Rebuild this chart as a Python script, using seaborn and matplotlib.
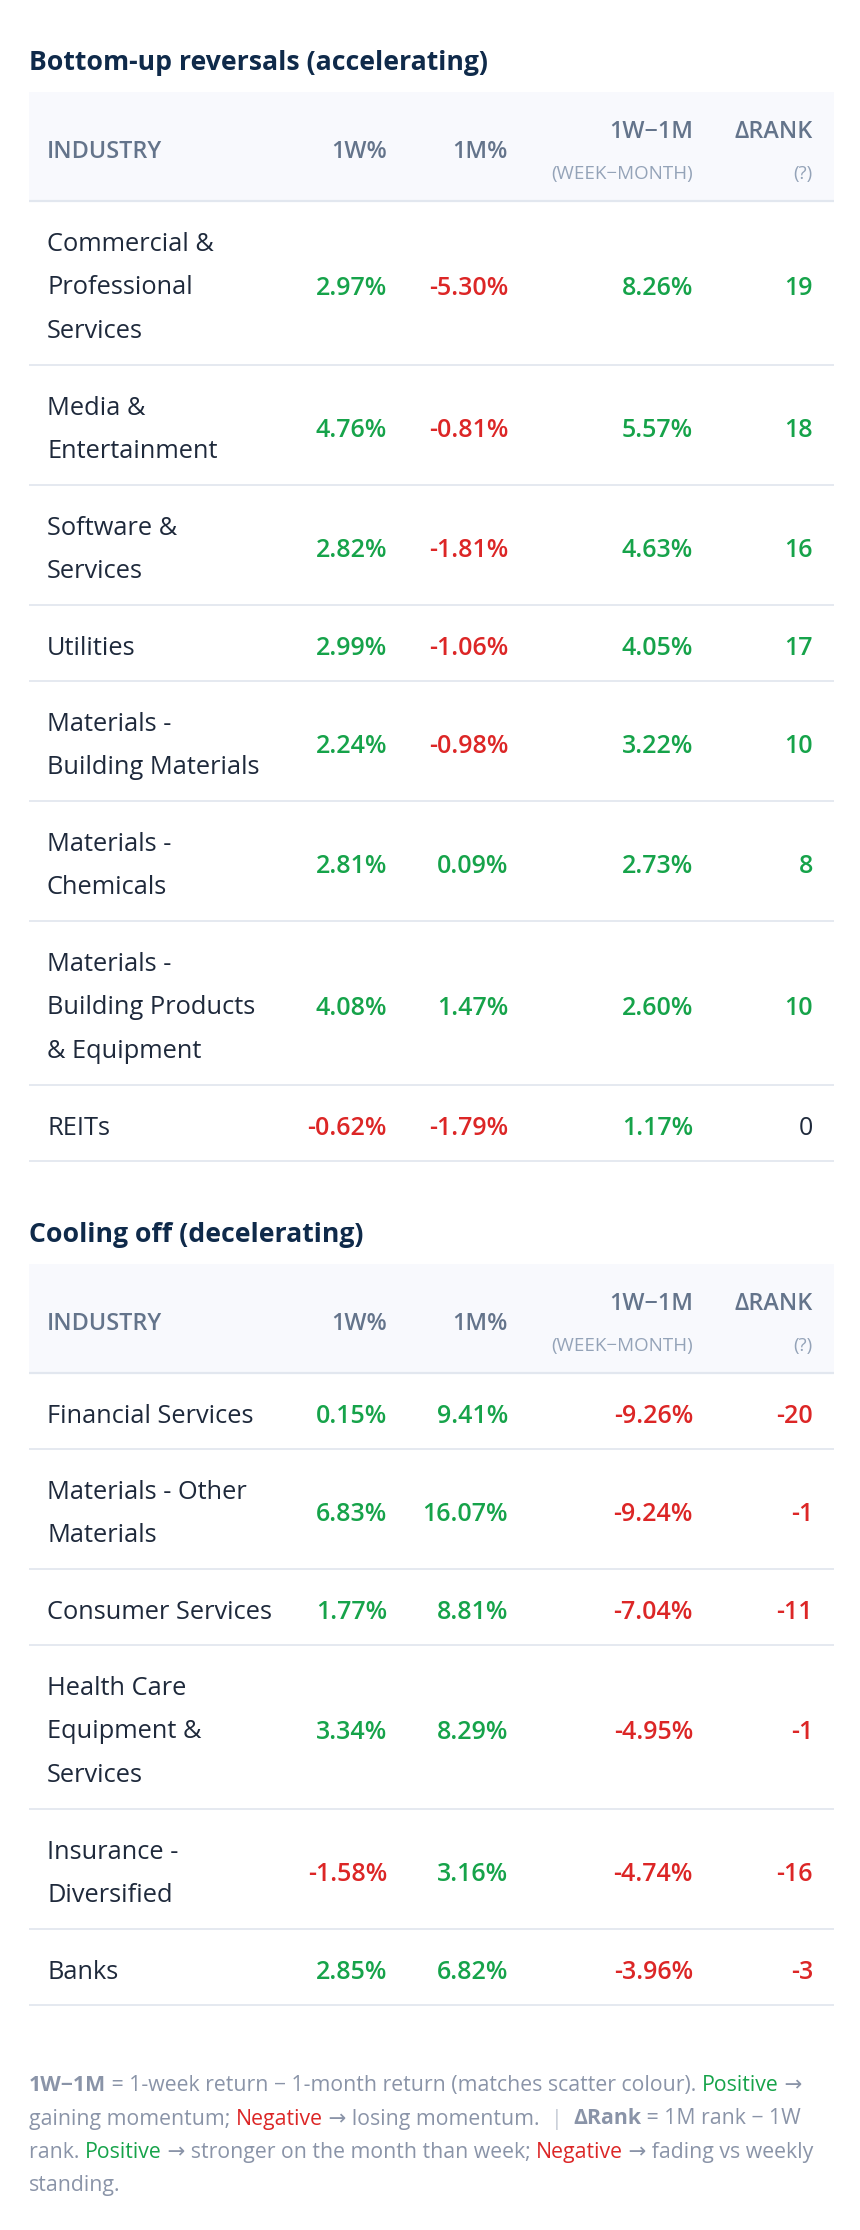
import textwrap
import pandas as pd
import seaborn as sns
import matplotlib.pyplot as plt
from matplotlib.patches import Rectangle

# table 1: bottom-up reversals
up_industry = ["Commercial & Professional Services", "Media & Entertainment",
               "Software & Services", "Utilities", "Materials - Building Materials",
               "Materials - Chemicals", "Materials - Building Products & Equipment", "REITs"]
up_1w = [2.97, 4.76, 2.82, 2.99, 2.24, 2.81, 4.08, -0.62]
up_1m = [-5.30, -0.81, -1.81, -1.06, -0.98, 0.09, 1.47, -1.79]
up_diff = [8.26, 5.57, 4.63, 4.05, 3.22, 2.73, 2.60, 1.17]
up_rank = [19, 18, 16, 17, 10, 8, 10, 0]

# table 2: cooling off
down_industry = ["Financial Services", "Materials - Other Materials", "Consumer Services",
                 "Health Care Equipment & Services", "Insurance - Diversified", "Banks"]
down_1w = [0.15, 6.83, 1.77, 3.34, -1.58, 2.85]
down_1m = [9.41, 16.07, 8.81, 8.29, 3.16, 6.82]
down_diff = [-9.26, -9.24, -7.04, -4.95, -4.74, -3.96]
down_rank = [-20, -1, -11, -1, -16, -3]

titles = ["Bottom-up reversals (accelerating)", "Cooling off (decelerating)"]

GREEN = "#16a34a"
RED = "#dc2626"
DARK = "#1e293b"
NAVY = "#0f2a4a"
HEAD = "#64748b"
SUB = "#94a3b8"
FOOT = "#8a94a8"
BAND = "#f8f9fd"
LINE = "#e5e9f0"

sns.set_theme(style="white")
plt.rcParams['font.family'] = ['Open Sans', 'DejaVu Sans']

W, H = 860, 2230
fig = plt.figure(figsize=(W / 100, H / 100), dpi=100)
ax = fig.add_axes([0, 0, 1, 1])
ax.set_xlim(0, W)
ax.set_ylim(H, 0)
ax.axis('off')

X0, X1 = 29, 834
TXT = 47
col_x = {"1w": 387, "1m": 508, "diff": 693, "rank": 813}


def sign_color(v):
    if v > 0:
        return GREEN
    if v < 0:
        return RED
    return DARK


def draw_table(y, title, df):
    ax.text(X0, y, title, fontsize=19.2, fontweight='bold', color=NAVY, va='baseline')
    top = y + 22
    ax.add_patch(Rectangle((X0, top), X1 - X0, 109, color=BAND, lw=0))
    hb = top + 109
    ax.plot([X0, X1], [hb, hb], color="#e2e7ef", lw=1.6, solid_capstyle='butt')
    hk = dict(fontsize=16.8, fontweight='semibold', color=HEAD, va='baseline')
    ax.text(TXT, top + 66, "INDUSTRY", **hk)
    ax.text(col_x["1w"], top + 66, "1W%", ha='right', **hk)
    ax.text(col_x["1m"], top + 66, "1M%", ha='right', **hk)
    ax.text(col_x["diff"], top + 46, "1W\u22121M", ha='right', **hk)
    ax.text(col_x["rank"], top + 46, "\u0394RANK", ha='right', **hk)
    sk = dict(fontsize=13.5, color=SUB, va='baseline', ha='right')
    ax.text(col_x["diff"], top + 87, "(WEEK\u2212MONTH)", **sk)
    ax.text(col_x["rank"], top + 87, "(?)", **sk)

    y = hb
    for _, r in df.iterrows():
        lines = textwrap.wrap(r["industry"], 18)
        n = len(lines)
        h = 32 + 44 * n
        for i, ln in enumerate(lines):
            ax.text(TXT, y + 50 + 43.5 * i, ln, fontsize=18.3, color=DARK, va='baseline')
        base = y + 16 + 22 * n + 12
        nk = dict(fontsize=18, fontweight='semibold', va='baseline', ha='right')
        ax.text(col_x["1w"], base, f"{r['w1']:.2f}%", color=sign_color(r['w1']), **nk)
        ax.text(col_x["1m"], base, f"{r['m1']:.2f}%", color=sign_color(r['m1']), **nk)
        ax.text(col_x["diff"], base, f"{r['diff']:.2f}%", color=sign_color(r['diff']), **nk)
        rk = dict(nk)
        if r['rank'] == 0:
            rk['fontweight'] = 'normal'
        ax.text(col_x["rank"], base, f"{int(r['rank'])}", color=sign_color(r['rank']), **rk)
        y += h
        ax.plot([X0, X1], [y, y], color=LINE, lw=1.4, solid_capstyle='butt')
    return y


df_up = pd.DataFrame({"industry": up_industry, "w1": up_1w, "m1": up_1m,
                      "diff": up_diff, "rank": up_rank})
df_down = pd.DataFrame({"industry": down_industry, "w1": down_1w, "m1": down_1m,
                        "diff": down_diff, "rank": down_rank})

end1 = draw_table(70, titles[0], df_up)
end2 = draw_table(end1 + 81, titles[1], df_down)

# footnote with coloured words
renderer = fig.canvas.get_renderer()


def text_width(s, **kw):
    a = ax.text(0, 0, "|" + s + "|", **kw)
    b = ax.text(0, 0, "||", **kw)
    w = a.get_window_extent(renderer).width - b.get_window_extent(renderer).width
    a.remove()
    b.remove()
    return w


foot = [
    [("1W\u22121M", FOOT, 'bold'), (" = 1-week return \u2212 1-month return (matches scatter colour). ", FOOT, 'normal'),
     ("Positive", GREEN, 'normal'), (" \u2192", FOOT, 'normal')],
    [("gaining momentum; ", FOOT, 'normal'), ("Negative", RED, 'normal'),
     (" \u2192 losing momentum.  ", FOOT, 'normal'), ("|", "#c5cbd5", 'normal'), ("  ", FOOT, 'normal'),
     ("\u0394Rank", FOOT, 'bold'), (" = 1M rank \u2212 1W", FOOT, 'normal')],
    [("rank. ", FOOT, 'normal'), ("Positive", GREEN, 'normal'),
     (" \u2192 stronger on the month than week; ", FOOT, 'normal'), ("Negative", RED, 'normal'),
     (" \u2192 fading vs weekly", FOOT, 'normal')],
    [("standing.", FOOT, 'normal')],
]
fy = end2 + 86
for parts in foot:
    x = X0
    for s, c, wgt in parts:
        kw = dict(fontsize=15.3, fontweight=wgt)
        ax.text(x, fy, s, color=c, va='baseline', **kw)
        x += text_width(s, **kw)
    fy += 33.5

fig.savefig("out.png", dpi=100, facecolor="white")
